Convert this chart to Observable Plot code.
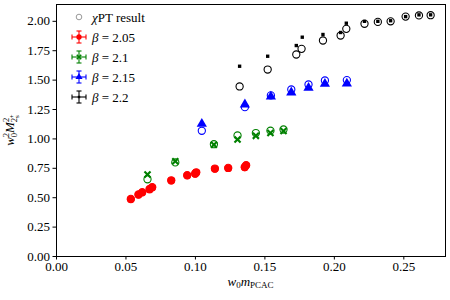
<!DOCTYPE html>
<html>
<head>
<meta charset="utf-8">
<script src="https://cdn.jsdelivr.net/npm/d3@7"></script>
<script src="https://cdn.jsdelivr.net/npm/@observablehq/plot@0.6"></script>
<style>
  html, body { margin: 0; padding: 0; background: #fff; }
  #chart { width: 450px; height: 300px; }
  #chart svg text { font-family: 'Liberation Serif', 'DejaVu Serif', serif; font-size: 13px; fill: #000; }
</style>
</head>
<body>
<div id="chart"></div>
<script>
// ---- data ----
const xTicks = [0, 0.05, 0.10, 0.15, 0.20, 0.25];
const yTicks = [0, 0.25, 0.5, 0.75, 1.0, 1.25, 1.5, 1.75, 2.0];

const betas = ["β = 2.05", "β = 2.1", "β = 2.15", "β = 2.2"];
const colors = ["#ff0000", "#008000", "#0000ff", "#000000"];

const b205_x   = [0.0535, 0.059, 0.0617, 0.067, 0.0689, 0.0826, 0.0941, 0.0998, 0.1006, 0.114, 0.1236, 0.1355, 0.1365];
const b205_y   = [0.487, 0.525, 0.544, 0.570, 0.587, 0.646, 0.689, 0.703, 0.714, 0.746, 0.751, 0.758, 0.775];
const b205_chi = [0.490, 0.528, 0.547, 0.574, 0.590, 0.648, 0.692, 0.706, 0.716, 0.748, 0.754, 0.761, 0.777];

const b210_x   = [0.0655, 0.0855, 0.1133, 0.1303, 0.1435, 0.154, 0.1634];
const b210_y   = [0.697, 0.810, 0.950, 0.995, 1.026, 1.050, 1.068];
const b210_chi = [0.657, 0.800, 0.955, 1.029, 1.050, 1.070, 1.080];

const b215_x   = [0.1046, 0.1356, 0.1543, 0.169, 0.1814, 0.1932, 0.209];
const b215_y   = [1.128, 1.293, 1.360, 1.395, 1.434, 1.468, 1.470];
const b215_chi = [1.069, 1.270, 1.370, 1.420, 1.463, 1.497, 1.500];

const b220_x   = [0.1318, 0.152, 0.1726, 0.1769, 0.1918, 0.2045, 0.2086, 0.2217, 0.2313, 0.2405, 0.2513, 0.2609, 0.2693];
const b220_xc  = [0.1318, 0.152, 0.1726, 0.1764, 0.1918, 0.2045, 0.2086, 0.2217, 0.2313, 0.2405, 0.2513, 0.2609, 0.2693];
const b220_y   = [1.618, 1.703, 1.794, 1.865, 1.888, 1.905, 1.984, 2.000, 2.000, 2.005, 2.040, 2.055, 2.055];
const b220_chi = [1.446, 1.590, 1.718, 1.766, 1.837, 1.879, 1.936, 1.979, 1.995, 2.000, 2.040, 2.050, 2.052];

// ---- build tables ----
const mk = (xs, ys) => xs.map((x, i) => ({x, y: ys[i]}));
const d205 = mk(b205_x, b205_y), c205 = mk(b205_x, b205_chi);
const d210 = mk(b210_x, b210_y), c210 = mk(b210_x, b210_chi);
const d215 = mk(b215_x, b215_y), c215 = mk(b215_x, b215_chi);
const d220 = mk(b220_x, b220_y), c220 = mk(b220_xc, b220_chi);

// filled "X" marker
const filledX = {
  draw(ctx, size) {
    const r = Math.sqrt(size / Math.PI) * 1.05;
    const w = r * 0.4;
    const pts = [[0,-w],[r-w,-r],[r,-r+w],[w,0],[r,r-w],[r-w,r],[0,w],[-r+w,r],[-r,r-w],[-w,0],[-r,-r+w],[-r+w,-r]];
    ctx.moveTo(pts[0][0], pts[0][1]);
    for (let i = 1; i < pts.length; i++) ctx.lineTo(pts[i][0], pts[i][1]);
    ctx.closePath();
  }
};

const W = 450, H = 300, ML = 56, MR = 5, MT = 4, MB = 44;
const FONT = "'Liberation Serif', 'DejaVu Serif', serif";

const plot = Plot.plot({
  width: W, height: H,
  marginLeft: ML, marginRight: MR, marginTop: MT, marginBottom: MB,
  style: {fontFamily: FONT, fontSize: "13px", background: "white", color: "black"},
  x: {domain: [0, 0.28], label: null},
  y: {domain: [0, 2.143], label: null},
  marks: [
    Plot.axisX({ticks: xTicks, tickFormat: d3.format(".2f"), tickSize: 3.5, tickPadding: 2, label: null}),
    Plot.axisY({ticks: yTicks, tickFormat: d3.format(".2f"), tickSize: 3.5, tickPadding: 3, label: null}),
    // data points
    Plot.dot(d205, {x: "x", y: "y", r: 3.9, symbol: "circle", fill: colors[0], stroke: "none"}),
    Plot.dot(d210, {x: "x", y: "y", r: 3.6, symbol: filledX, fill: colors[1], stroke: "none"}),
    Plot.dot(d215, {x: "x", y: "y", r: 3.8, symbol: "triangle", fill: colors[2], stroke: "none"}),
    Plot.dot(d220, {x: "x", y: "y", r: 1.9, symbol: "square", fill: colors[3], stroke: "none"}),
    // chiPT results
    Plot.dot(c205, {x: "x", y: "y", r: 3.6, fill: "none", stroke: colors[0], strokeWidth: 1.1}),
    Plot.dot(c210, {x: "x", y: "y", r: 3.6, fill: "none", stroke: colors[1], strokeWidth: 1.1}),
    Plot.dot(c215, {x: "x", y: "y", r: 3.6, fill: "none", stroke: colors[2], strokeWidth: 1.1}),
    Plot.dot(c220, {x: "x", y: "y", r: 3.6, fill: "none", stroke: colors[3], strokeWidth: 1.1}),
    Plot.frame({stroke: "black", strokeWidth: 1})
  ]
});

const svg = d3.select(plot);

// ---- legend (inside the frame, top-left) ----
const lg = svg.append("g").attr("font-family", FONT).attr("font-size", 13).attr("text-anchor", "start");
const lx = ML + 23, tx = ML + 36, ly0 = MT + 13, step = 20;
// chiPT row
lg.append("circle").attr("cx", lx).attr("cy", ly0).attr("r", 2.8)
  .attr("fill", "none").attr("stroke", "#999").attr("stroke-width", 1);
lg.append("text").attr("x", tx).attr("y", ly0).attr("dy", "0.35em").attr("text-anchor", "start")
  .html("<tspan font-style='italic'>χ</tspan>PT result");
betas.forEach((b, i) => {
  const cy = ly0 + step * (i + 1), c = colors[i];
  const g = lg.append("g").attr("stroke", c).attr("stroke-width", 1.1);
  g.append("line").attr("x1", lx - 7).attr("x2", lx + 7).attr("y1", cy).attr("y2", cy);
  g.append("line").attr("x1", lx - 7).attr("x2", lx - 7).attr("y1", cy - 2.5).attr("y2", cy + 2.5);
  g.append("line").attr("x1", lx + 7).attr("x2", lx + 7).attr("y1", cy - 2.5).attr("y2", cy + 2.5);
  g.append("line").attr("x1", lx).attr("x2", lx).attr("y1", cy - 6).attr("y2", cy + 6);
  g.append("line").attr("x1", lx - 2.5).attr("x2", lx + 2.5).attr("y1", cy - 6).attr("y2", cy - 6);
  g.append("line").attr("x1", lx - 2.5).attr("x2", lx + 2.5).attr("y1", cy + 6).attr("y2", cy + 6);
  const sym = [d3.symbolCircle, filledX, d3.symbolTriangle, d3.symbolSquare][i];
  const size = [22, 22, 22, 6][i];
  lg.append("path").attr("d", d3.symbol(sym, size)()).attr("transform", `translate(${lx},${cy})`).attr("fill", c);
  lg.append("text").attr("x", tx).attr("y", cy).attr("dy", "0.35em").attr("text-anchor", "start")
    .html(`<tspan font-style='italic'>β</tspan> = ${b.split("= ")[1]}`);
});

// ---- axis labels ----
const xl = svg.append("text").attr("x", (ML + W - MR) / 2).attr("y", 286)
  .attr("text-anchor", "middle");
xl.html("<tspan font-style='italic'>w</tspan><tspan font-size='9' dy='2'>0</tspan><tspan font-style='italic' dy='-2'>m</tspan><tspan font-size='9' dy='2'>PCAC</tspan>");

const yl = svg.append("text").attr("transform", `translate(14,${(MT + H - MB) / 2}) rotate(-90)`)
  .attr("text-anchor", "middle");
yl.html("<tspan font-style='italic'>w</tspan><tspan font-size='8.5' dy='-5'>2</tspan><tspan font-size='8.5' dx='-4.3' dy='8'>0</tspan><tspan font-style='italic' dy='-3'>M</tspan><tspan font-size='8.5' dy='-5'>2</tspan><tspan font-size='8.5' dx='-4.3' dy='8'>2</tspan><tspan font-size='7' dy='2'>s</tspan><tspan font-size='7' dx='-3' dy='-5'>+</tspan>");

document.getElementById("chart").appendChild(plot);
</script>
</body>
</html>
